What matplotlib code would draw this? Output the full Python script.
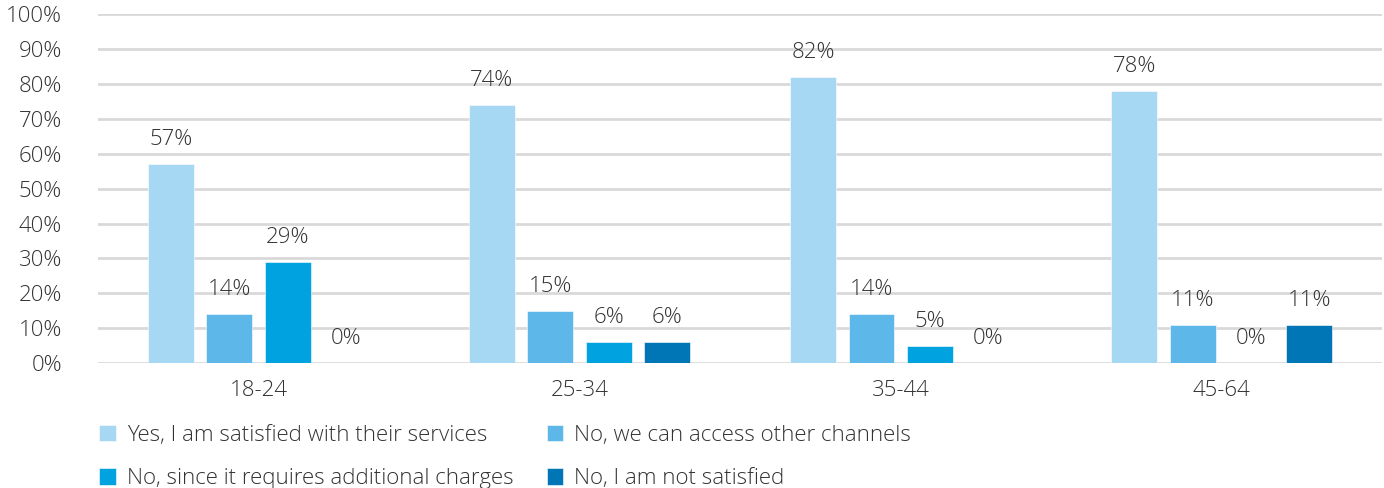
import numpy as np
import matplotlib
matplotlib.use("Agg")
from matplotlib import pyplot as plt

# survey answers by age group, in percent
age_groups = ["18-24", "25-34", "35-44", "45-64"]
answers = [
    "Yes, I am satisfied with their services",
    "No, we can access other channels",
    "No, since it requires additional charges",
    "No, I am not satisfied",
]
satisfied = [57, 74, 82, 78]
other_channels = [14, 15, 14, 11]
extra_charges = [29, 6, 5, 0]
not_satisfied = [0, 6, 0, 11]
y_ticks = [0, 10, 20, 30, 40, 50, 60, 70, 80, 90, 100]

series = [satisfied, other_channels, extra_charges, not_satisfied]
colors = ["#A6D7F3", "#5DB7E9", "#00A3E0", "#0076B6"]
text_color = "#333333"

plt.rcParams["font.family"] = ["Open Sans", "DejaVu Sans"]
plt.rcParams["font.weight"] = "light"

fig = plt.figure(figsize=(13.84, 4.88), dpi=100)
ax = fig.add_axes([0.0708, 0.256, 0.928, 0.715])

x = np.arange(len(age_groups))
width = 0.143
step = 0.182
bars = []
for i, (vals, col, name) in enumerate(zip(series, colors, answers)):
    pos = x + (i - 1.5) * step
    b = ax.bar(pos, vals, width, color=col, label=name, zorder=2,
               edgecolor="white", linewidth=0.4)
    bars.append(b)
    for px, v in zip(pos, vals):
        ax.annotate(f"{v}%", (px, v), xytext=(0, 10), textcoords="offset points",
                    ha="center", va="bottom", fontsize=16, color=text_color)

ax.set_xlim(-0.5, len(age_groups) - 0.5)
ax.set_ylim(0, 100)
ax.set_yticks(y_ticks)
ax.set_yticklabels([f"{t}%" for t in y_ticks])
ax.set_xticks(x)
ax.set_xticklabels(age_groups)
ax.tick_params(axis="both", length=0, labelsize=16, colors=text_color)
ax.tick_params(axis="y", pad=26)
ax.tick_params(axis="x", pad=12)
ax.grid(axis="y", color="#D9D9D9", linewidth=2, zorder=0)
ax.set_axisbelow(True)
for s in ax.spines.values():
    s.set_visible(False)

# legend fills row by row: reorder for matplotlib's column-first layout
order = [0, 2, 1, 3]
fig.legend(handles=[bars[i] for i in order], labels=[answers[i] for i in order],
           ncol=2, loc="upper left",
           bbox_to_anchor=(0.057, 0.17), frameon=False, fontsize=16,
           handlelength=0.75, handleheight=0.75, handletextpad=0.5,
           columnspacing=1.5, labelspacing=1.0, labelcolor=text_color)

fig.savefig("out.png", dpi=100)
